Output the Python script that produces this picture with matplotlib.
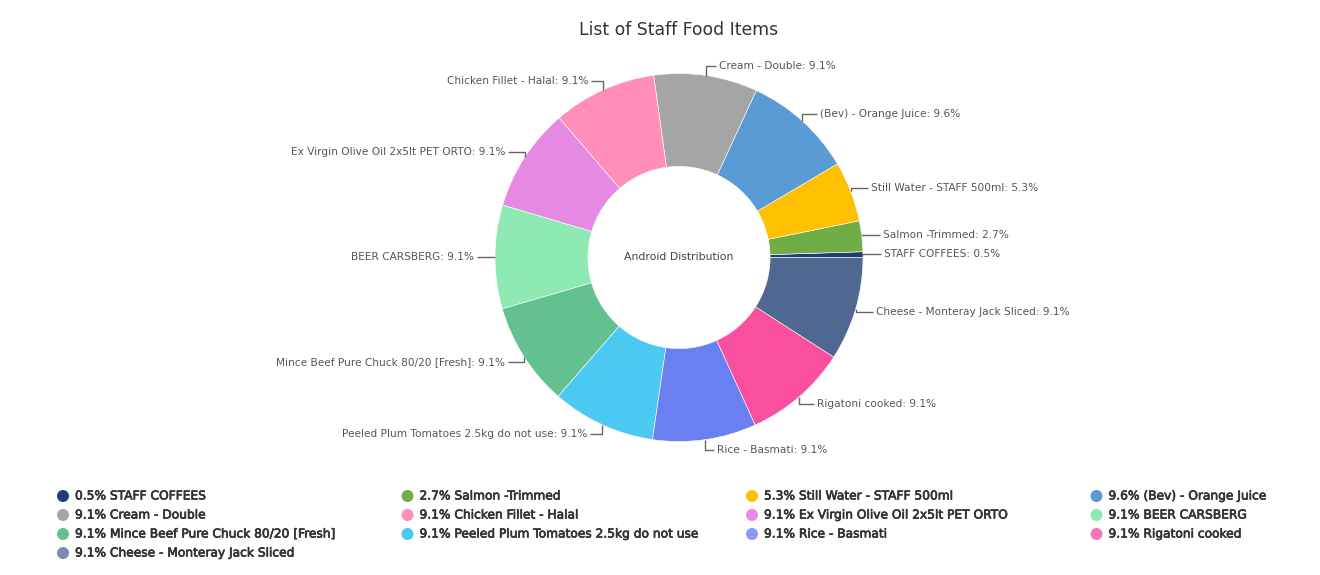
import math
import matplotlib
matplotlib.use("Agg")
import matplotlib.pyplot as plt
import matplotlib.patheffects as pe

# slice data, counter-clockwise from 3 o'clock
ITEMS = [
	"STAFF COFFEES",
	"Salmon -Trimmed",
	"Still Water - STAFF 500ml",
	"(Bev) - Orange Juice",
	"Cream - Double",
	"Chicken Fillet - Halal",
	"Ex Virgin Olive Oil 2x5lt PET ORTO",
	"BEER CARSBERG",
	"Mince Beef Pure Chuck 80/20 [Fresh]",
	"Peeled Plum Tomatoes 2.5kg do not use",
	"Rice - Basmati",
	"Rigatoni cooked",
	"Cheese - Monteray Jack Sliced",
]
SHARES = [0.5, 2.7, 5.3, 9.6, 9.1, 9.1, 9.1, 9.1, 9.1, 9.1, 9.1, 9.1, 9.1]
COLORS = [
	"#203e72", "#70ad47", "#ffc000", "#5b9bd5", "#a5a5a5", "#ff8fba",
	"#e689e2", "#8fe9b3", "#63c08f", "#4cc9f0", "#6a7ff0", "#fa4f9f", "#4f6891",
]
LEGEND_COLORS = [
	"#203e72", "#70ad47", "#ffc000", "#5b9bd5", "#a5a5a5", "#ff8fba",
	"#e689e2", "#8fe9b3", "#63c08f", "#4cc9f0", "#8a9af5", "#fb75b5", "#7a8db0",
]
TITLE = "List of Staff Food Items"
CENTER_TEXT = "Android Distribution"

W, H = 1320, 575
CX, CY, R = 679, 257.5, 184


def px(x, y):
	return (x - CX) / R, (CY - y) / R


def main() -> None:
	fig = plt.figure(figsize=(W / 100, H / 100), dpi=100)
	ax = fig.add_axes([0, 0, 1, 1])

	wedges, _ = ax.pie(SHARES, colors=COLORS, startangle=0, counterclock=True,
		radius=1, wedgeprops=dict(width=0.505, edgecolor="white", linewidth=0.4))

	ax.set_xlim(-CX / R, (W - CX) / R)
	ax.set_ylim(-(H - CY) / R, CY / R)
	ax.set_aspect("equal")
	ax.axis("off")

	# leader lines: out 10px along the radius (drawn as a crook), then 8px sideways
	for w, name, val in zip(wedges, ITEMS, SHARES):
		th = math.radians((w.theta1 + w.theta2) / 2)
		ex, ey = math.cos(th), math.sin(th)
		kx, ky = ex * (1 + 10 / R), ey * (1 + 10 / R)
		side = 1 if ex >= 0 else -1
		hx = kx + side * 8 / R
		ax.plot([ex, ex, hx], [ey, ky, ky], color="#666666", lw=1, solid_capstyle="butt")
		ax.text(hx + side * 3 / R, ky, "%s: %.1f%%" % (name, val),
			ha="left" if side > 0 else "right", va="center",
			fontsize=7.55, color="#555555")

	ax.text(0, 0, CENTER_TEXT, ha="center", va="center", fontsize=7.8, color="#444444")

	tx, ty = px(CX, 30)
	ax.text(tx, ty, TITLE, ha="center", va="center", fontsize=12.4, color="#333333")

	# legend, 4 columns filled row by row
	for i, (name, val) in enumerate(zip(ITEMS, SHARES)):
		row, col = divmod(i, 4)
		mx, my = px(63 + col * 344.5, 496 + row * 19)
		ax.scatter([mx], [my], s=75, color=LEGEND_COLORS[i], edgecolors="none")
		lx, _ = px(75 + col * 344.5, 0)
		ax.text(lx, my, "%.1f%% %s" % (val, name), ha="left", va="center",
			fontsize=8.8, color="#333333",
			path_effects=[pe.withStroke(linewidth=0.5, foreground="#333333")])

	fig.savefig("out.png", dpi=100)


if __name__ == "__main__":
	main()
